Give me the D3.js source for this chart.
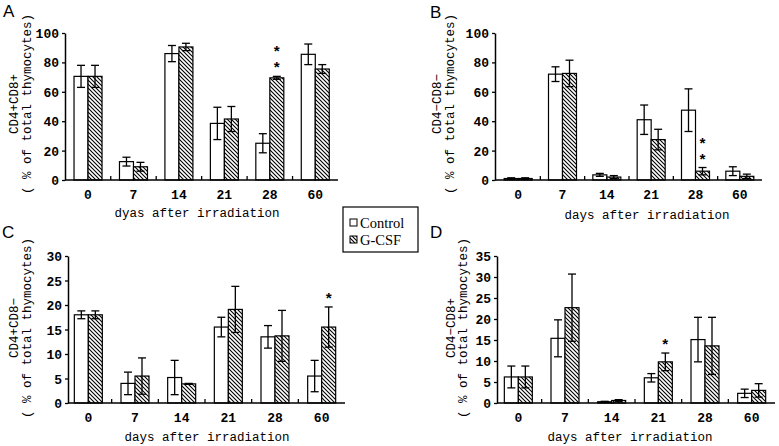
<!DOCTYPE html>
<html><head><meta charset="utf-8">
<script src="https://cdn.jsdelivr.net/npm/d3@7"></script>
<style>body{margin:0;background:#fff}svg{display:block}</style>
</head><body>
<svg id="c" width="779" height="446"></svg>
<script>
const categories = ["0","7","14","21","28","60"];
const seriesNames = ["Control","G-CSF"];

// Panel A: CD4+CD8+
const aControl = [70.5, 12.5, 86, 38.5, 25, 85.5];
const aControlErr = [7.5, 3, 5.5, 11, 6.5, 7];
const aGcsf = [70.5, 9, 90.5, 41.5, 69.5, 75.5];
const aGcsfErr = [7.5, 3, 2.5, 8.5, 1, 3];
const aTicks = [0, 20, 40, 60, 80, 100];

// Panel B: CD4-CD8-
const bControl = [1, 72, 3.5, 41, 47.5, 6];
const bControlErr = [0.5, 5, 1, 10, 14.5, 3];
const bGcsf = [1, 72.5, 2, 27.5, 6, 2.5];
const bGcsfErr = [0.5, 9, 1, 7, 2.5, 1.5];
const bTicks = [0, 20, 40, 60, 80, 100];

// Panel C: CD4+CD8-
const cControl = [18, 4, 5.2, 15.5, 13.5, 5.5];
const cControlErr = [0.8, 2.3, 3.5, 2, 2.3, 3.2];
const cGcsf = [18, 5.5, 3.9, 19.1, 13.7, 15.5];
const cGcsfErr = [0.8, 3.7, 0.1, 4.7, 5.2, 4.1];
const cTicks = [0, 5, 10, 15, 20, 25, 30];

// Panel D: CD4-CD8+
const dControl = [6.2, 15.4, 0.3, 6, 15.1, 2.3];
const dControlErr = [2.6, 4.4, 0.1, 1, 5.3, 1];
const dGcsf = [6.2, 22.7, 0.6, 9.8, 13.6, 3];
const dGcsfErr = [2.6, 8, 0.2, 2.1, 6.8, 1.6];
const dTicks = [0, 5, 10, 15, 20, 25, 30, 35];

// significance marks: [category, series index, number of stars]
const aSig = [["28", 1, 2]];
const bSig = [["28", 1, 2]];
const cSig = [["60", 1, 1]];
const dSig = [["21", 1, 1]];

const panelLetters = ["A","B","C","D"];
const yLabels1 = ["CD4+CD8+","CD4−CD8−","CD4+CD8−","CD4−CD8+"];
const yLabel2 = "( % of total thymocytes)";
const xTitles = ["dyas after irradiation","days after irradiation","days after irradiation","days after irradiation"];

const svg = d3.select("#c");
const defs = svg.append("defs");
const pat = defs.append("pattern").attr("id","hatch").attr("patternUnits","userSpaceOnUse")
  .attr("width",4).attr("height",4);
pat.append("rect").attr("width",4).attr("height",4).attr("fill","#fff");
pat.append("path").attr("d","M-1,-1L5,5M-1,3L1,5M3,-1L5,1").attr("stroke","#000").attr("stroke-width",1.1);

const MONO = "'Liberation Mono','DejaVu Sans Mono',monospace";

const panels = [
  {ctrl:aControl, ce:aControlErr, g:aGcsf, ge:aGcsfErr, ticks:aTicks, sig:aSig,
   axX:65, r0:65.3, r1:338, top:33, bot:180,
   letter:[3,17], yl1:15, yl2:28, ylc:104, xt:[197,217], tickY:199},
  {ctrl:bControl, ce:bControlErr, g:bGcsf, ge:bGcsfErr, ticks:bTicks, sig:bSig,
   axX:495, r0:496, r1:762, top:33, bot:180,
   letter:[430,18], yl1:438, yl2:451, ylc:104, xt:[647,219], tickY:199},
  {ctrl:cControl, ce:cControlErr, g:cGcsf, ge:cGcsfErr, ticks:cTicks, sig:cSig,
   axX:68, r0:65, r1:345, top:256, bot:403,
   letter:[2,238], yl1:15, yl2:28, ylc:328, xt:[207,441], tickY:422},
  {ctrl:dControl, ce:dControlErr, g:dGcsf, ge:dGcsfErr, ticks:dTicks, sig:dSig,
   axX:497, r0:495, r1:775, top:256, bot:403,
   letter:[430,238], yl1:452, yl2:464, ylc:328, xt:[630,441], tickY:422}
];

panels.forEach((p, i) => {
  const g = svg.append("g");
  const x = d3.scaleBand().domain(categories).range([p.r0, p.r1]);
  const y = d3.scaleLinear().domain([0, d3.max(p.ticks)]).range([p.bot, p.top]);
  const bw = 14;
  const sub = d3.scaleBand().domain([0,1]).range([0, bw*2]);
  const series = [p.ctrl, p.g];
  const errs = [p.ce, p.ge];

  // bars
  series.forEach((vals, s) => {
    const gx = c => x(c) + x.bandwidth()/2 - bw + sub(s);
    g.selectAll(null).data(categories).enter().append("rect")
      .attr("x", (c) => gx(c))
      .attr("y", (c, k) => y(vals[k]))
      .attr("width", bw)
      .attr("height", (c, k) => y(0) - y(vals[k]))
      .attr("fill", s === 0 ? "#fff" : "url(#hatch)")
      .attr("stroke", "#000").attr("stroke-width", 1.2);
  });
  // error bars
  series.forEach((vals, s) => {
    const cx = c => x(c) + x.bandwidth()/2 - bw + sub(s) + bw/2;
    categories.forEach((c, k) => {
      const hi = y(vals[k] + errs[s][k]), lo = y(Math.max(0, vals[k] - errs[s][k]));
      const xx = cx(c);
      g.append("line").attr("x1",xx).attr("x2",xx).attr("y1",hi).attr("y2",lo)
        .attr("stroke","#000").attr("stroke-width",1.3);
      [hi, lo].forEach(yy => g.append("line").attr("x1",xx-4).attr("x2",xx+4)
        .attr("y1",yy).attr("y2",yy).attr("stroke","#000").attr("stroke-width",1.3));
    });
  });
  // significance stars
  p.sig.forEach(([c, s, n]) => {
    const k = categories.indexOf(c);
    const vals = series[s];
    const xx = x(c) + x.bandwidth()/2 - bw + sub(s) + bw/2;
    const topPx = y(vals[k] + errs[s][k]);
    for (let j = 0; j < n; j++) {
      g.append("text").attr("x", xx).attr("y", topPx - 11 - j*16 + 8)
        .attr("text-anchor","middle").attr("font-family", MONO)
        .attr("font-size", 15).attr("font-weight","bold").text("*");
    }
  });

  // y axis
  const yAxis = d3.axisLeft(y).tickValues(p.ticks).tickSize(3).tickSizeOuter(0).tickPadding(3);
  const ya = g.append("g").attr("transform", `translate(${p.axX},0)`).call(yAxis);
  ya.select(".domain").attr("stroke","#000").attr("stroke-width",1.5);
  ya.selectAll(".tick line").attr("stroke","#000").attr("stroke-width",1.3);
  ya.selectAll(".tick text").attr("font-family", MONO).attr("font-size", 13)
    .attr("font-weight","bold").attr("fill","#000").attr("dy","0.35em");

  // x axis: line + inside ticks at band boundaries + labels
  g.append("line").attr("x1", p.axX).attr("x2", p.r1).attr("y1", p.bot).attr("y2", p.bot)
    .attr("stroke","#000").attr("stroke-width",1.5);
  categories.slice(1).forEach(c => {
    g.append("line").attr("x1", x(c)).attr("x2", x(c)).attr("y1", p.bot).attr("y2", p.bot-4)
      .attr("stroke","#000").attr("stroke-width",1.3);
  });
  g.selectAll(null).data(categories).enter().append("text")
    .attr("x", c => x(c) + x.bandwidth()/2).attr("y", p.tickY)
    .attr("text-anchor","middle").attr("font-family", MONO).attr("font-size",13)
    .attr("font-weight","bold").text(c => c);

  // titles
  g.append("text").attr("x", p.xt[0]).attr("y", p.xt[1]).attr("text-anchor","middle")
    .attr("font-family", MONO).attr("font-size",12.5).text(xTitles[i]);
  g.append("text").attr("transform", `translate(${p.yl1},${p.ylc}) rotate(-90)`)
    .attr("text-anchor","middle").attr("dominant-baseline","central")
    .attr("font-family", MONO).attr("font-size",12.5).text(yLabels1[i]);
  g.append("text").attr("transform", `translate(${p.yl2},${p.ylc}) rotate(-90)`)
    .attr("text-anchor","middle").attr("dominant-baseline","central")
    .attr("font-family", MONO).attr("font-size",12.5).text(yLabel2);
  g.append("text").attr("x", p.letter[0]).attr("y", p.letter[1])
    .attr("font-family","'Liberation Sans',Arial,sans-serif").attr("font-size",17)
    .text(panelLetters[i]);
});

// legend
const lg = svg.append("g");
lg.append("rect").attr("x",343).attr("y",207).attr("width",75).attr("height",45)
  .attr("fill","#fff").attr("stroke","#000").attr("stroke-width",1.2);
seriesNames.forEach((name, s) => {
  const yy = 223 + s*17;
  lg.append("rect").attr("x",350).attr("y",yy-4).attr("width",7).attr("height",7)
    .attr("fill", s === 0 ? "#fff" : "url(#hatch)").attr("stroke","#000").attr("stroke-width",1);
  lg.append("text").attr("x",360).attr("y",yy+4.5)
    .attr("font-family","'Liberation Serif','Times New Roman',serif").attr("font-size",14.5)
    .text(name);
});
</script>
</body></html>
